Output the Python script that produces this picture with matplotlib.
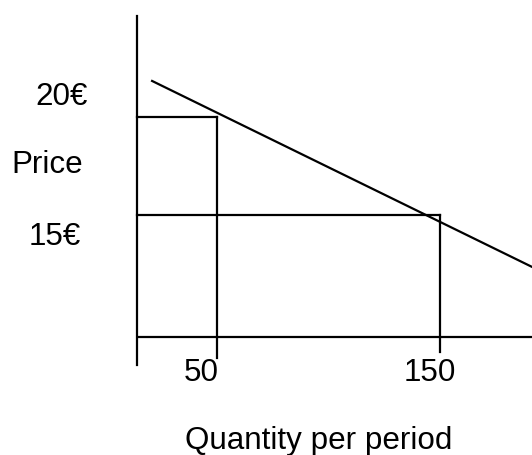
import matplotlib.pyplot as plt

plt.rcParams['font.family'] = ['Liberation Sans', 'DejaVu Sans']

price_levels = [20, 15]
price_labels = ["20€", "15€"]
quantities = [50, 150]
qty_labels = ["50", "150"]

# droite de demande (extrémités estimées)
demand_q = [20.9, 191.3]
demand_p = [21.84, 12.35]

# position des axes du schéma (pas à zéro, c'est un croquis)
axis_q = 14.1
axis_p = 8.78
axis_top = 25.15
axis_bottom = 7.35
tick_bottom = [7.70, 8.01]

W, H = 532, 455
fig = plt.figure(figsize=(W / 100, H / 100), dpi=100)
ax = fig.add_axes([0, 0, 1, 1])
ax.set_xlim(-47.3, 191.26)
ax.set_ylim(2.755, 25.97)
ax.axis('off')

lw = 1.6
# axes
ax.plot([axis_q, axis_q], [axis_bottom, axis_top], color='black', lw=lw)
ax.plot([axis_q + 0.5, 191.3], [axis_p, axis_p], color='black', lw=lw)

# demande
ax.plot(demand_q, demand_p, color='black', lw=lw)

# rectangles prix x quantité
for p, q, yb in zip(price_levels, quantities, tick_bottom):
    ax.plot([axis_q, q], [p, p], color='black', lw=lw)
    ax.plot([q, q], [yb, p], color='black', lw=lw)

fs = 22.6
def px(x, y):
    return x / W, 1 - y / H

# étiquettes de prix (à gauche)
for lab, (x, y) in zip(price_labels, [(62, 105), (55, 245)]):
    fig.text(*px(x, y), lab, ha='center', va='baseline', fontsize=fs)
fig.text(*px(47, 173), "Price", ha='center', va='baseline', fontsize=fs)

# étiquettes de quantité
for lab, (x, y) in zip(qty_labels, [(201, 381), (430, 381)]):
    fig.text(*px(x, y), lab, ha='center', va='baseline', fontsize=fs)
fig.text(*px(319, 449), "Quantity per period", ha='center', va='baseline', fontsize=fs)

fig.savefig("out.png", dpi=100)
